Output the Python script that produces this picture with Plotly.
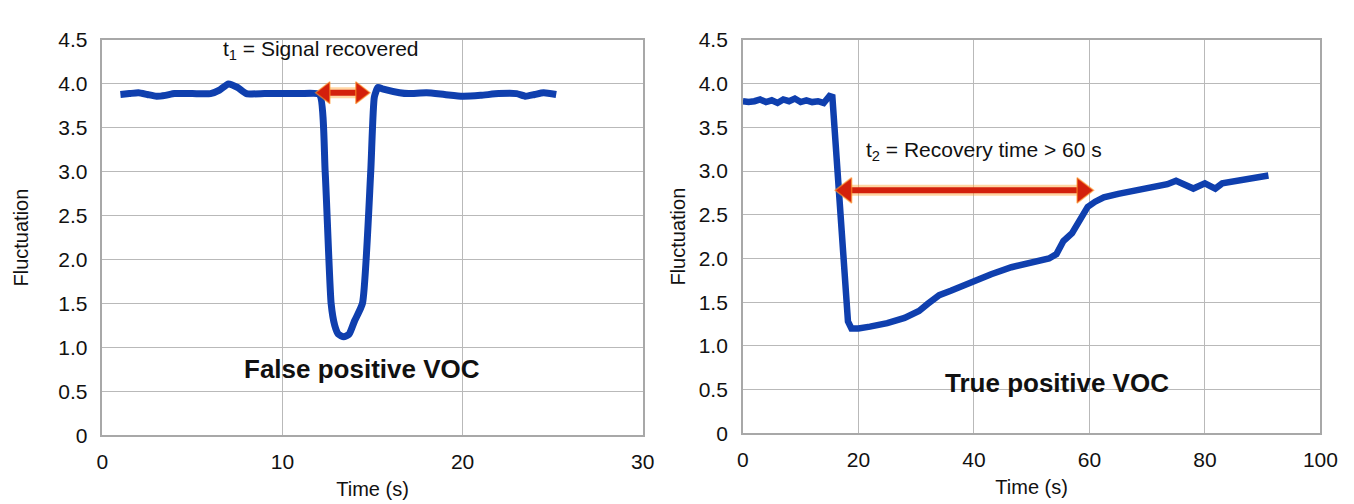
import plotly.graph_objects as go

# ---- data ----
left_time = [1.0, 1.5, 2.0, 2.5, 3.0, 3.5, 4.0, 5.0, 6.0, 6.5, 7.0, 7.5, 8.0, 9.0, 10.0, 11.0,
             12.05, 12.37, 12.7, 12.9, 13.1, 13.4, 13.7, 14.0, 14.44, 14.9, 15.1, 15.3, 15.6,
             16.5, 17.0, 18.0, 19.0, 20.0, 21.0, 22.0, 23.0, 23.5, 24.0, 24.5, 25.2]
left_fluct = [3.88, 3.89, 3.90, 3.88, 3.86, 3.87, 3.89, 3.89, 3.89, 3.93, 4.00, 3.96, 3.89, 3.89, 3.89, 3.89,
              3.88, 3.00, 1.50, 1.25, 1.15, 1.12, 1.15, 1.30, 1.50, 3.00, 3.85, 3.96, 3.94,
              3.90, 3.89, 3.90, 3.88, 3.86, 3.87, 3.89, 3.89, 3.86, 3.88, 3.90, 3.88]

right_time = [0, 1, 2, 3, 4, 5, 6, 7, 8, 9, 10, 11, 12, 13, 14, 15, 15.5,
              16.5, 17.5, 18.2, 18.8, 20, 22, 25, 28, 30.5, 32, 34, 36, 38, 40.5, 43, 46.5, 49, 51,
              53, 54.3, 55.5, 57, 58, 58.7, 59.7, 61, 62.5, 65, 68, 71, 73.5, 75, 76.5, 78, 80,
              81.8, 83, 85, 87, 89, 91]
right_fluct = [3.80, 3.79, 3.80, 3.82, 3.79, 3.81, 3.78, 3.82, 3.80, 3.83, 3.79, 3.81, 3.79, 3.80, 3.78, 3.86, 3.85,
               2.80, 1.80, 1.28, 1.20, 1.20, 1.22, 1.26, 1.32, 1.40, 1.48, 1.58, 1.63, 1.69, 1.76, 1.82, 1.90, 1.94, 1.97,
               2.00, 2.05, 2.20, 2.29, 2.40, 2.50, 2.59, 2.65, 2.70, 2.74, 2.78, 2.81, 2.85, 2.89, 2.85, 2.80, 2.86,
               2.80, 2.86, 2.88, 2.90, 2.92, 2.95]

y_ticks = [0, 0.5, 1.0, 1.5, 2.0, 2.5, 3.0, 3.5, 4.0, 4.5]
y_tick_text = ["0", "0.5", "1.0", "1.5", "2.0", "2.5", "3.0", "3.5", "4.0", "4.5"]
left_x_ticks = [0, 10, 20, 30]
right_x_ticks = [0, 20, 40, 60, 80, 100]

# double arrows: tip x positions and level
left_arrow_x = [11.9, 14.8]
left_arrow_y = 3.9
right_arrow_x = [16.2, 60.5]
right_arrow_y = 2.78

W, H = 1354, 504
L_DOM = [90 / W, 640 / W]
R_DOM = [742 / W, 1330 / W]
LINE_BLUE = "#0f3fae"
ARROW_RED = "#d3200c"
FONT = "Liberation Sans, Arial, Helvetica, sans-serif"

fig = go.Figure()
fig.add_trace(go.Scatter(x=left_time, y=left_fluct, mode="lines",
                         line=dict(color=LINE_BLUE, width=7, shape="spline", smoothing=0.5),
                         xaxis="x", yaxis="y", showlegend=False, hoverinfo="skip"))
fig.add_trace(go.Scatter(x=right_time, y=right_fluct, mode="lines",
                         line=dict(color=LINE_BLUE, width=6.5),
                         xaxis="x2", yaxis="y2", showlegend=False, hoverinfo="skip"))


def add_double_arrow(tips, yv, xr, yr, x_span, dom, head):
    px_per_unit = (dom[1] - dom[0]) * W / x_span
    off = head * 0.45 / px_per_unit
    fig.add_trace(go.Scatter(x=[tips[0] + off, tips[1] - off], y=[yv, yv], mode="lines",
                             line=dict(color="rgba(255,165,50,0.45)", width=11),
                             xaxis=xr, yaxis=yr, showlegend=False, hoverinfo="skip"))
    fig.add_trace(go.Scatter(x=[tips[0] + off, tips[1] - off], y=[yv, yv], mode="lines",
                             line=dict(color=ARROW_RED, width=6),
                             xaxis=xr, yaxis=yr, showlegend=False, hoverinfo="skip"))
    fig.add_trace(go.Scatter(x=[tips[0] + off, tips[1] - off], y=[yv, yv], mode="markers",
                             marker=dict(symbol=["triangle-left", "triangle-right"], size=head,
                                         color=ARROW_RED,
                                         line=dict(color="rgba(255,150,40,0.6)", width=1.5)),
                             xaxis=xr, yaxis=yr, showlegend=False, hoverinfo="skip"))


add_double_arrow(left_arrow_x, left_arrow_y, "x", "y", 30, L_DOM, 19)
add_double_arrow(right_arrow_x, right_arrow_y, "x2", "y2", 100, R_DOM, 22)

axis_common = dict(showgrid=True, gridcolor="#b9b9b9", gridwidth=1,
                   showline=True, linecolor="#a8a8a8", linewidth=1.5, mirror=True,
                   zeroline=False, ticks="", tickfont=dict(size=21, color="#111", family=FONT))
title_font = dict(size=20, family=FONT, color="#111")
x_title = dict(text="Time (s)", font=title_font, standoff=10)

fig.update_layout(
    width=W, height=H,
    paper_bgcolor="white", plot_bgcolor="white",
    margin=dict(l=0, r=0, t=0, b=0),
    font=dict(family=FONT, color="#111"),
    xaxis=dict(domain=L_DOM, range=[0, 30], tickvals=left_x_ticks, title=x_title,
               anchor="y", ticklabelstandoff=7, **axis_common),
    yaxis=dict(domain=[1 - 435 / H, 1 - 21 / H], range=[0, 4.5], tickvals=y_ticks, ticktext=y_tick_text,
               title=dict(text="Fluctuation", font=title_font, standoff=24),
               anchor="x", ticklabelstandoff=9, **axis_common),
    xaxis2=dict(domain=R_DOM, range=[0, 100], tickvals=right_x_ticks, title=x_title,
                anchor="y2", ticklabelstandoff=7, **axis_common),
    yaxis2=dict(domain=[1 - 433 / H, 1 - 21 / H], range=[0, 4.5], tickvals=y_ticks, ticktext=y_tick_text,
                title=dict(text="Fluctuation", font=title_font, standoff=8),
                anchor="x2", ticklabelstandoff=9, **axis_common),
)

ann = []
ann.append(dict(x=12.15, y=4.39, xref="x", yref="y", text="t<sub>1</sub> = Signal recovered",
                showarrow=False, font=dict(size=21, family=FONT)))
ann.append(dict(x=14.4, y=0.75, xref="x", yref="y", text="<b>False positive VOC</b>",
                showarrow=False, font=dict(size=26, family=FONT)))
ann.append(dict(x=41.8, y=3.23, xref="x2", yref="y2", text="t<sub>2</sub> = Recovery time > 60 s",
                showarrow=False, font=dict(size=21, family=FONT)))
ann.append(dict(x=54.4, y=0.57, xref="x2", yref="y2", text="<b>True positive VOC</b>",
                showarrow=False, font=dict(size=26, family=FONT)))

fig.update_layout(annotations=ann)
fig.write_html("out.html")
